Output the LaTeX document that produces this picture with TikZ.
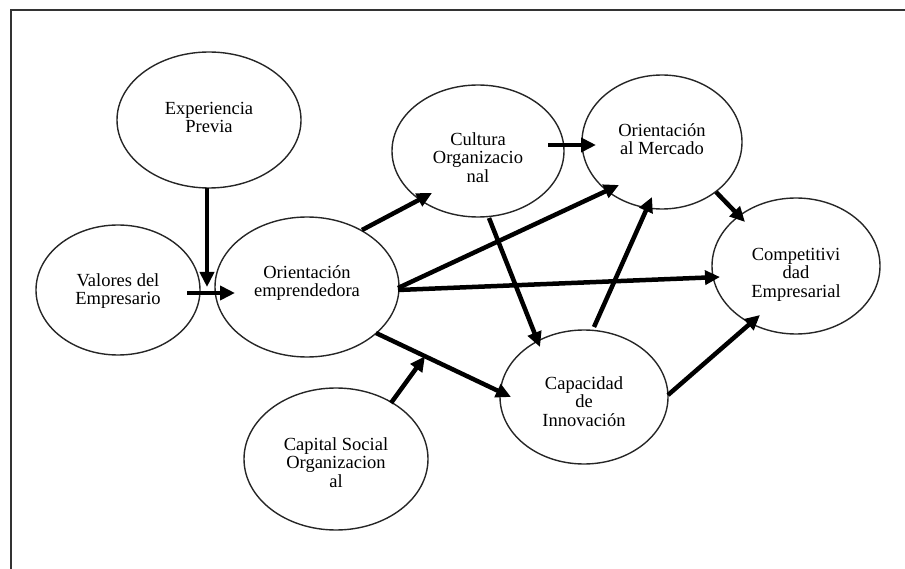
\documentclass[tikz,border=0pt]{standalone}
\usepackage{fontspec}
\setmainfont{Liberation Serif}
\usetikzlibrary{shapes.geometric,arrows.meta}
\newcommand{\ntext}[2]{\raisebox{#1}[\height][\depth]{\begin{tabular}{@{}c@{}}#2\end{tabular}}}
\begin{document}
\begin{tikzpicture}[x=1pt,y=-1pt,
  bub/.style={ellipse, draw=black!85, line width=1.4pt, inner sep=0pt,
    font=\fontsize{18.5}{18.5}\selectfont},
  arr/.style={line width=4.5pt, -{Triangle[length=15pt,width=14pt]}},
  frame/.style={line width=2pt, draw=black!80}]
\useasboundingbox (0,0) rectangle (905,569);
\draw[frame] (905,10) -- (11,10) -- (11,569);

\node[bub, minimum width=184pt, minimum height=136pt] (exp) at (209,120) {\ntext{0pt}{Experiencia\\Previa}};
\node[bub, minimum width=164pt, minimum height=130pt] (val) at (118,290) {\ntext{-2pt}{Valores del\\Empresario}};
\node[bub, minimum width=184pt, minimum height=140pt] (oe) at (307,287) {\ntext{3pt}{Orientación\\emprendedora}};
\node[bub, minimum width=172pt, minimum height=132pt] (cul) at (478,151) {\ntext{-9pt}{Cultura\\Organizacio\\nal}};
\node[bub, minimum width=160pt, minimum height=134pt] (mer) at (662,142) {\ntext{0pt}{Orientación\\al Mercado}};
\node[bub, minimum width=168pt, minimum height=136pt] (com) at (796,266) {\ntext{-9pt}{Competitivi\\dad\\Empresarial}};
\node[bub, minimum width=168pt, minimum height=134pt] (cap) at (584,397) {\ntext{-7pt}{Capacidad\\de\\Innovación}};
\node[bub, minimum width=184pt, minimum height=142pt] (csoc) at (336,459) {\ntext{-6pt}{Capital Social\\Organizacion\\al}};

\draw[arr] ([shift={(-2,68)}]exp.center) -- ([shift={(-100,0)}]oe.center);
\draw[arr] ([shift={(69,3)}]val.center) -- ([shift={(-72,6)}]oe.center);
\draw[arr] ([shift={(55,-57)}]oe.center) -- ([shift={(-46,42)}]cul.center);
\draw[arr] ([shift={(91,1)}]oe.center) -- ([shift={(-43,43)}]mer.center);
\draw[arr] ([shift={(91,3)}]oe.center) -- ([shift={(-76,11)}]com.center);
\draw[arr] ([shift={(69,46)}]oe.center) -- coordinate[pos=0.363] (join) ([shift={(-73,0)}]cap.center);
\draw[arr] ([shift={(55,-56)}]csoc.center) -- (join);
\draw[arr] ([shift={(70,-6)}]cul.center) -- ([shift={(-66,3)}]mer.center);
\draw[arr] ([shift={(11,67)}]cul.center) -- ([shift={(-44,-50)}]cap.center);
\draw[arr] ([shift={(10,-70)}]cap.center) -- ([shift={(-10,55)}]mer.center);
\draw[arr] ([shift={(54,50)}]mer.center) -- ([shift={(-51,-44)}]com.center);
\draw[arr] ([shift={(84,-2)}]cap.center) -- ([shift={(-36,49)}]com.center);
\end{tikzpicture}
\end{document}
